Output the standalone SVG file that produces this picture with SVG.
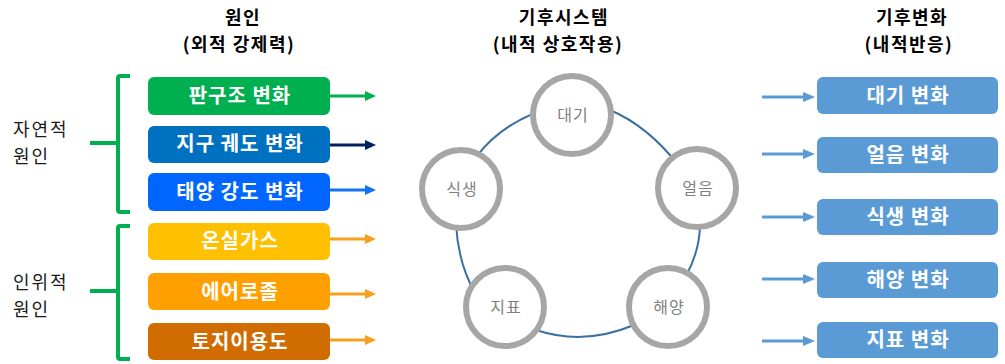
<svg xmlns="http://www.w3.org/2000/svg" width="1005" height="364" viewBox="0 0 1005 364">
<style>
.t{font-family:"Noto Sans CJK KR","Noto Sans",sans-serif;}
.title{font-size:18px;font-weight:bold;fill:#000;text-anchor:middle;letter-spacing:1.5px;}
.lbl{font-size:18px;fill:#1a1a1a;letter-spacing:2px;}
.bx{font-size:20px;font-weight:bold;fill:#fff;text-anchor:middle;letter-spacing:1px;}
.nd{fill:#fff;stroke:#a6a6a6;stroke-width:6;}
.ndt{font-size:16px;fill:#7f7f7f;text-anchor:middle;letter-spacing:1px;}
.ring{fill:none;stroke:#3d6f9e;stroke-width:2;}
.br{fill:none;stroke:#00b050;stroke-width:4;stroke-linejoin:round;}
.ar{stroke-width:3;fill:none;}
</style>
<defs>
<marker id="mG" markerUnits="userSpaceOnUse" markerWidth="12" markerHeight="10" refX="0" refY="5" orient="auto"><path d="M0,0 L11,5 L0,10 z" fill="#00b050"/></marker>
<marker id="mN" markerUnits="userSpaceOnUse" markerWidth="12" markerHeight="10" refX="0" refY="5" orient="auto"><path d="M0,0 L11,5 L0,10 z" fill="#002060"/></marker>
<marker id="mB" markerUnits="userSpaceOnUse" markerWidth="12" markerHeight="10" refX="0" refY="5" orient="auto"><path d="M0,0 L11,5 L0,10 z" fill="#1273f0"/></marker>
<marker id="mO" markerUnits="userSpaceOnUse" markerWidth="12" markerHeight="10" refX="0" refY="5" orient="auto"><path d="M0,0 L11,5 L0,10 z" fill="#f5a01e"/></marker>
<marker id="mL" markerUnits="userSpaceOnUse" markerWidth="13" markerHeight="10" refX="0" refY="5" orient="auto"><path d="M0,0 L12,5 L0,10 z" fill="#5b9bd5"/></marker>
</defs>
<rect width="1005" height="364" fill="#fff"/>

<g id="titles" class="t">
<text class="title" x="243" y="24">원인</text>
<text class="title" x="239" y="51">(외적 강제력)</text>
<text class="title" x="564" y="24">기후시스템</text>
<text class="title" x="558" y="51">(내적 상호작용)</text>
<text class="title" x="912" y="24">기후변화</text>
<text class="title" x="909" y="51">(내적반응)</text>
</g>

<g id="natural-group">
<path class="br" d="M130,76 L120,76 Q118,76 118,78 L118,210 Q118,212 120,212 L130,212 M90,143 L118,143"/>
<text class="t lbl" x="13" y="136">자연적</text>
<text class="t lbl" x="13" y="163">원인</text>
</g>
<g id="human-group">
<path class="br" d="M130,226 L120,226 Q118,226 118,228 L118,357 Q118,359 120,359 L130,359 M90,291 L118,291"/>
<text class="t lbl" x="13" y="289">인위적</text>
<text class="t lbl" x="13" y="316">원인</text>
</g>

<g id="cause-plate"><rect x="148" y="77" width="182" height="38" rx="6" fill="#00b050"/><text class="t bx" x="240" y="103">판구조 변화</text></g>
<g id="cause-orbit"><rect x="148" y="126" width="182" height="37" rx="6" fill="#0070c0"/><text class="t bx" x="240" y="151">지구 궤도 변화</text></g>
<g id="cause-solar"><rect x="148" y="173" width="182" height="38" rx="6" fill="#0066ff"/><text class="t bx" x="240" y="199">태양 강도 변화</text></g>
<g id="cause-ghg"><rect x="148" y="223" width="182" height="37" rx="6" fill="#ffc000"/><text class="t bx" x="240" y="248">온실가스</text></g>
<g id="cause-aerosol"><rect x="148" y="273" width="182" height="37" rx="6" fill="#ffa000"/><text class="t bx" x="240" y="299">에어로졸</text></g>
<g id="cause-land"><rect x="148" y="323" width="182" height="37" rx="6" fill="#d06c00"/><text class="t bx" x="240" y="349">토지이용도</text></g>

<g id="connectors">
<line class="ar" x1="330" y1="96" x2="365" y2="96" stroke="#00b050" marker-end="url(#mG)"/>
<line class="ar" x1="330" y1="145" x2="365" y2="145" stroke="#002060" marker-end="url(#mN)"/>
<line class="ar" x1="330" y1="190" x2="365" y2="190" stroke="#1273f0" marker-end="url(#mB)"/>
<line class="ar" x1="330" y1="239" x2="365" y2="239" stroke="#f5a01e" marker-end="url(#mO)"/>
<line class="ar" x1="330" y1="294" x2="365" y2="294" stroke="#f5a01e" marker-end="url(#mO)"/>
<line class="ar" x1="330" y1="340" x2="365" y2="340" stroke="#f5a01e" marker-end="url(#mO)"/>
<line class="ar" x1="762" y1="97" x2="803" y2="97" stroke="#5b9bd5" marker-end="url(#mL)"/>
<line class="ar" x1="762" y1="154" x2="803" y2="154" stroke="#5b9bd5" marker-end="url(#mL)"/>
<line class="ar" x1="762" y1="217" x2="803" y2="217" stroke="#5b9bd5" marker-end="url(#mL)"/>
<line class="ar" x1="762" y1="279" x2="803" y2="279" stroke="#5b9bd5" marker-end="url(#mL)"/>
<line class="ar" x1="762" y1="341" x2="803" y2="341" stroke="#5b9bd5" marker-end="url(#mL)"/>
<path class="ring" d="M610,110 Q648,126 679,166"/>
<path class="ring" d="M700,224 Q700,250 686,276"/>
<path class="ring" d="M634,325 Q584,346 536,330"/>
<path class="ring" d="M474,291 Q458,262 456,224"/>
<path class="ring" d="M477,156 Q498,128 535,113"/>
</g>

<g id="node-atmosphere"><circle class="nd" cx="572" cy="115" r="39"/><text class="t ndt" x="573" y="121">대기</text></g>
<g id="node-ice"><circle class="nd" cx="697" cy="188" r="39"/><text class="t ndt" x="698" y="194">얼음</text></g>
<g id="node-ocean"><circle class="nd" cx="668" cy="307" r="39"/><text class="t ndt" x="669" y="313">해양</text></g>
<g id="node-land"><circle class="nd" cx="505" cy="307" r="39"/><text class="t ndt" x="506" y="313">지표</text></g>
<g id="node-veg"><circle class="nd" cx="461" cy="189" r="39"/><text class="t ndt" x="462" y="195">식생</text></g>

<g id="resp-atmosphere"><rect x="817" y="77" width="181" height="37" rx="6" fill="#5b9bd5"/><text class="t bx" x="908" y="103">대기 변화</text></g>
<g id="resp-ice"><rect x="817" y="137" width="181" height="36" rx="6" fill="#5b9bd5"/><text class="t bx" x="908" y="162">얼음 변화</text></g>
<g id="resp-veg"><rect x="817" y="199" width="181" height="36" rx="6" fill="#5b9bd5"/><text class="t bx" x="908" y="224">식생 변화</text></g>
<g id="resp-ocean"><rect x="817" y="262" width="181" height="36" rx="6" fill="#5b9bd5"/><text class="t bx" x="908" y="287">해양 변화</text></g>
<g id="resp-land"><rect x="817" y="322" width="181" height="36" rx="6" fill="#5b9bd5"/><text class="t bx" x="908" y="347">지표 변화</text></g>
</svg>
